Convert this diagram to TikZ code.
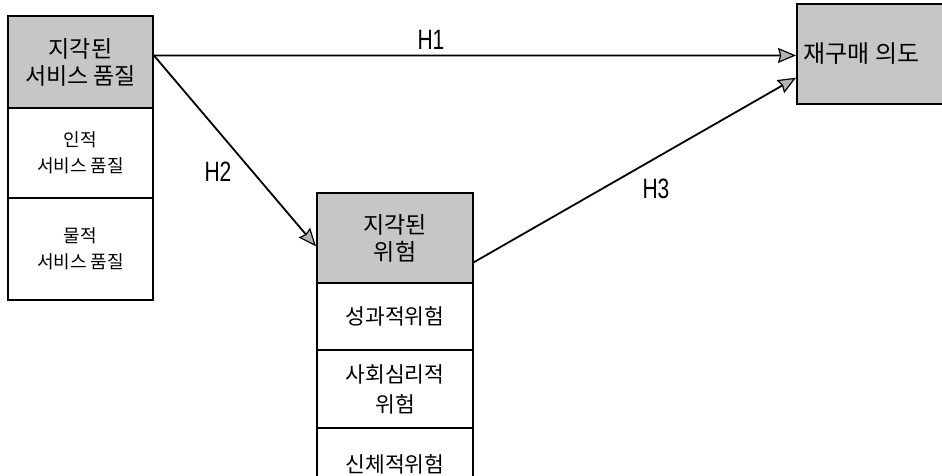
\documentclass[tikz,border=0pt]{standalone}
\usepackage{fontspec}
\setmainfont{Noto Sans CJK KR}
\newfontfamily\hfont[FakeStretch=0.75]{Liberation Sans}
\usetikzlibrary{arrows.meta}
\tikzset{
  box/.style={draw=black, line width=2pt, inner sep=0pt, align=center},
  hdr/.style={box, fill=gray!45, font=\fontsize{23}{27}\selectfont},
  cellA/.style={box, fill=white, font=\fontsize{18}{26}\selectfont},
  cellB/.style={box, fill=white, font=\fontsize{21.5}{30}\selectfont},
  tipg/.tip={Stealth[length=18pt,width=15pt,inset=2pt,fill=gray!60,line width=1.2pt]},
  link/.style={line width=1.8pt, -tipg},
  hlab/.style={font=\hfont\fontsize{28}{28}\selectfont}
}
\begin{document}
\begin{tikzpicture}[x=1pt,y=1pt]
\useasboundingbox (0,0) rectangle (942,-475);
\clip (0,0) rectangle (942,-475);
\fill[white] (0,0) rectangle (942,-475);
% left box
\node[hdr, minimum width=145pt, minimum height=92pt] (hdrA) at (80.5,-62) {지각된\\서비스 품질};
\node[cellA, minimum width=145pt, minimum height=90pt] (cA1) at (80.5,-153) {인적\\서비스 품질};
\node[cellA, minimum width=145pt, minimum height=102pt] (cA2) at (80.5,-249) {물적\\서비스 품질};
% middle box
\node[hdr, minimum width=156pt, minimum height=90pt] (hdrB) at (395,-238) {지각된\\위험};
\node[cellB, minimum width=156pt, minimum height=67pt] (cB1) at (395,-316.5) {성과적위험};
\node[cellB, minimum width=156pt, minimum height=78pt] (cB2) at (395,-389) {사회심리적\\위험};
\node[cellB, minimum width=156pt, minimum height=72pt] (cB3) at (395,-464) {신체적위험};
% right box
\node[hdr, minimum width=163pt, minimum height=100pt, font=\fontsize{24}{28}\selectfont] (rb) at (878.5,-54) {\hspace*{-34pt}재구매 의도};
% arrows
\draw[link] (hdrA.5) -- (rb.181);
\draw[link] (hdrA.5) -- (hdrB.186);
\draw[link] (hdrB.-17) -- (rb.196);
% labels
\node[hlab] (h1) at (431,-40) {H1};
\node[hlab] (h2) at (218,-172) {H2};
\node[hlab] (h3) at (656,-189) {H3};
\end{tikzpicture}
\end{document}
